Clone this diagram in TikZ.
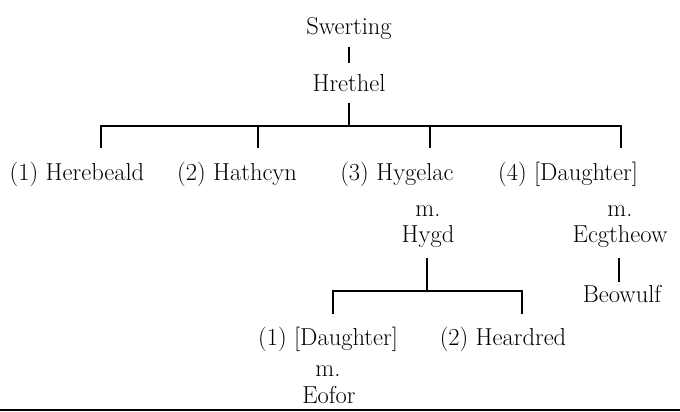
\documentclass[tikz,border=0pt]{standalone}
\begin{document}
\begin{tikzpicture}[x=1pt,y=-1pt,
  nm/.style={anchor=base,inner sep=0pt,font=\fontsize{24.5}{28}\selectfont},
  ln/.style={line width=1.7pt}]
\useasboundingbox (0,0) rectangle (680,412);
% names
\node[nm] (sw) at (349,35) {Swerting};
\node[nm] (hr) at (349,92) {Hrethel};
\node[nm] (c1) at (77,180) {(1) Herebeald};
\node[nm] (c2) at (237,180) {(2) Hathcyn};
\node[nm] (c3) at (397,180) {(3) Hygelac};
\node[nm] (c4) at (568,180) {(4) [Daughter]};
\node[nm] (m1) at (428,216) {m.};
\node[nm] (hy) at (428,242) {Hygd};
\node[nm] (m2) at (620,216) {m.};
\node[nm] (ec) at (620,242) {Ecgtheow};
\node[nm] (be) at (622,302) {Beowulf};
\node[nm] (g1) at (328,345) {(1) [Daughter]};
\node[nm] (g2) at (503,345) {(2) Heardred};
\node[nm] (m3) at (328,376) {m.};
\node[nm] (eo) at (329,403) {Eofor};
% connector coordinates
\coordinate (a1) at (349,47);  \coordinate (a2) at (349,63);
\coordinate (b1) at (349,103); \coordinate (b2) at (349,126);
\coordinate (bl) at (101,126); \coordinate (br) at (621,126);
\coordinate (d1) at (101,148); \coordinate (d2) at (258,148);
\coordinate (d3) at (430,148); \coordinate (d4) at (621,148);
\coordinate (e1) at (427,258); \coordinate (e2) at (427,291);
\coordinate (el) at (333,291); \coordinate (er) at (522,291);
\coordinate (f1) at (333,314); \coordinate (f2) at (522,314);
\coordinate (h1) at (619,258); \coordinate (h2) at (619,282);
\coordinate (z1) at (0,410); \coordinate (z2) at (680,410);
% connectors
\draw[ln] (a1) -- (a2);
\draw[ln] (b1) -- (b2);
\draw[ln] (d1) -- (bl) -- (br) -- (d4);
\draw[ln] (d2 |- bl) -- (d2);
\draw[ln] (d3 |- bl) -- (d3);
\draw[ln] (e1) -- (e2);
\draw[ln] (f1) -- (el) -- (er) -- (f2);
\draw[ln] (h1) -- (h2);
\draw[line width=2pt] (z1) -- (z2);
\end{tikzpicture}
\end{document}
